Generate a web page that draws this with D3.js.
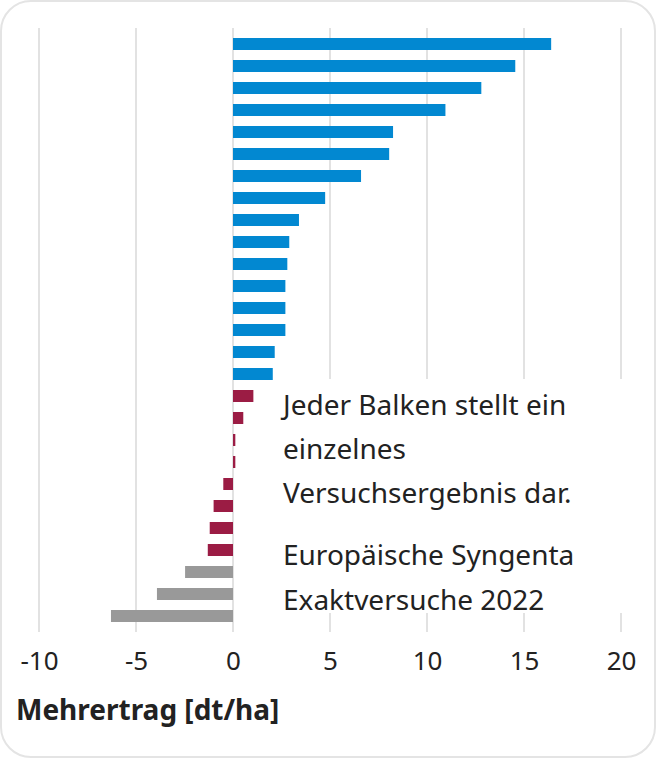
<!DOCTYPE html>
<html><head><meta charset="utf-8">
<script src="https://cdn.jsdelivr.net/npm/d3@7"></script>
<style>html,body{margin:0;padding:0;background:#fff;}svg{display:block;font-family:"Noto Sans",sans-serif;}</style>
</head><body>
<svg id="chart" width="656" height="758"></svg>
<script>
const trials = d3.range(1, 28).map(String);
const values = [16.4, 14.55, 12.8, 10.95, 8.25, 8.05, 6.6, 4.75, 3.4, 2.9, 2.8, 2.7, 2.7, 2.7, 2.15, 2.05,
                1.05, 0.53, 0.12, 0.12, -0.5, -1.0, -1.2, -1.3,
                -2.47, -3.92, -6.29];
const groups = ["pos","pos","pos","pos","pos","pos","pos","pos","pos","pos","pos","pos","pos","pos","pos","pos",
                "mid","mid","mid","mid","mid","mid","mid","mid",
                "neg","neg","neg"];
const xTicks = [-10, -5, 0, 5, 10, 15, 20];
const noteLines1 = ["Jeder Balken stellt ein", "einzelnes", "Versuchsergebnis dar."];
const noteLines2 = ["Europäische Syngenta", "Exaktversuche 2022"];
const axisTitle = "Mehrertrag [dt/ha]";

const color = d3.scaleOrdinal().domain(["pos","mid","neg"]).range(["#0288d1","#9b1c44","#999999"]);
const svg = d3.select("#chart");

svg.append("rect").attr("x",1).attr("y",1).attr("width",654).attr("height",756)
  .attr("rx",30).attr("fill","#fff").attr("stroke","#e4e4e4").attr("stroke-width",2);

const x = d3.scaleLinear().domain([-10, 20]).range([39, 621]);
const y = d3.scaleBand().domain(trials).range([33, 627]).paddingInner(10/22).paddingOuter(5/22);

// gridlines
svg.append("g").selectAll("line").data(xTicks).join("line")
  .attr("x1", d => x(d)).attr("x2", d => x(d))
  .attr("y1", 28).attr("y2", 632)
  .attr("stroke", "#e2e2e2").attr("stroke-width", 2);

// white box behind note
svg.append("rect").attr("x", 262).attr("y", 379).attr("width", 380).attr("height", 234).attr("fill", "#fff");

// bars
svg.append("g").selectAll("rect").data(values).join("rect")
  .attr("x", d => x(Math.min(0, d)))
  .attr("width", d => Math.abs(x(d) - x(0)))
  .attr("y", (d, i) => y(trials[i]))
  .attr("height", y.bandwidth())
  .attr("fill", (d, i) => color(groups[i]));

// x axis labels
const axis = d3.axisBottom(x).tickValues(xTicks).tickSize(0).tickPadding(0).tickFormat(d => String(d));
const gx = svg.append("g").call(axis);
gx.select(".domain").remove();
gx.selectAll("text").attr("font-size", 26).attr("fill", "#222").attr("font-family", "Noto Sans")
  .attr("dy", null).attr("y", 670);

svg.append("text").attr("x", 16).attr("y", 720).attr("font-size", 28).attr("font-weight", 700)
  .attr("fill", "#222").text(axisTitle);

const note = svg.append("g").attr("font-size", 28).attr("fill", "#222");
noteLines1.forEach((t, i) => note.append("text").attr("x", 283).attr("y", 415 + i * 44).text(t));
noteLines2.forEach((t, i) => note.append("text").attr("x", 283).attr("y", 565 + i * 45).text(t));
</script>
</body></html>
